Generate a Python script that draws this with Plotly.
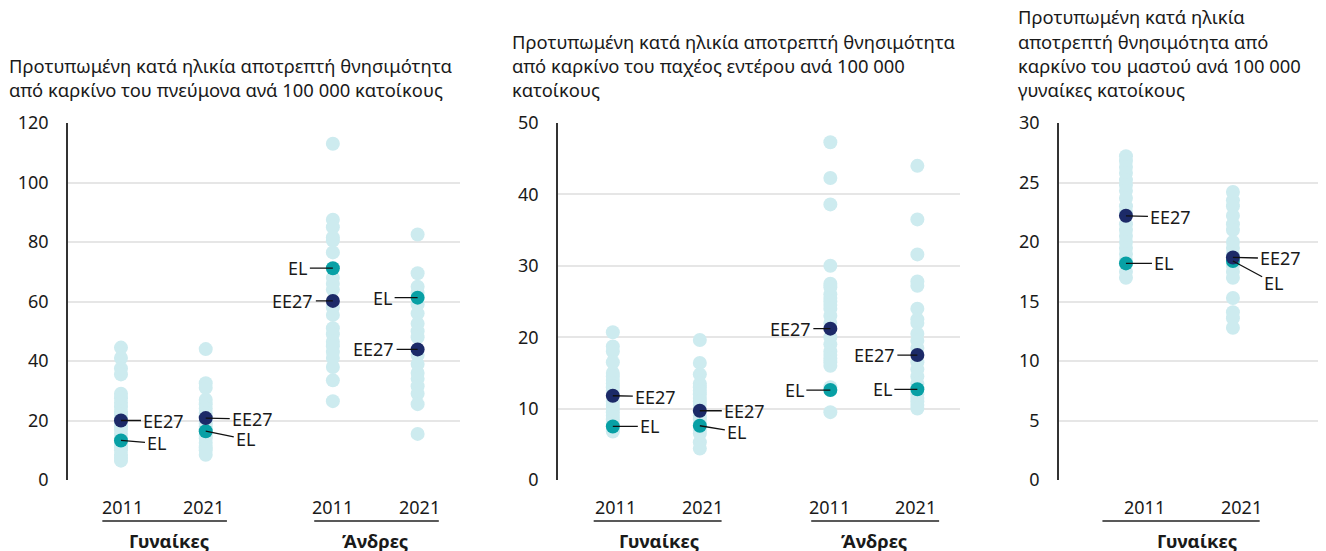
import plotly.graph_objects as go

# ---------------- DATA ----------------
years = ["2011", "2021", "2011", "2021"]
groups = ["Γυναίκες", "Άνδρες"]

# Panel 1: lung cancer
lung_w2011 = [44.5, 41, 37.5, 35.5, 29, 27.5, 26, 24.5, 23, 22, 21, 19, 18, 17, 15.5, 14, 12, 11, 10, 8.5, 7.5, 6.5]
lung_w2021 = [44, 32.5, 31, 27, 25.5, 24, 22.5, 21.5, 20, 19, 18, 17, 15, 14, 12.5, 11, 10, 8.5]
lung_m2011 = [113, 87.5, 85, 81.5, 80.5, 76.5, 68, 66, 64, 58, 55.5, 51, 49, 46.5, 45, 43, 41, 38, 33.5, 26.5]
lung_m2021 = [82.5, 69.5, 65, 63, 59, 56, 52.5, 50, 48, 42, 39, 36, 34, 31.5, 29, 25.5, 15.5]
lung_ee27 = [20.0, 20.8, 60.2, 43.9]
lung_el = [13.3, 16.4, 71.2, 61.3]

# Panel 2: colorectal cancer
colon_w2011 = [20.7, 18.7, 18, 16.5, 15, 14.5, 14, 13.5, 13, 12.5, 11, 10.5, 10, 9.5, 9, 8.5, 8, 7, 6.8]
colon_w2021 = [19.6, 16.4, 14.8, 13.5, 13, 12.5, 12, 11.5, 11, 10.5, 9, 8.5, 8, 7, 6.5, 5.3, 4.4]
colon_m2011 = [47.3, 42.3, 38.6, 30, 27.5, 27, 26, 25.5, 25, 24.5, 24, 23, 22, 20, 19, 18, 17.5, 17, 16.5, 16, 13, 9.5]
colon_m2021 = [44, 36.5, 31.6, 27.8, 27.2, 24, 22.5, 22, 20.5, 19.5, 18.5, 16.5, 15.5, 14.5, 13.5, 12, 11.5, 11, 10.5, 10]
colon_ee27 = [11.8, 9.7, 21.2, 17.5]
colon_el = [7.5, 7.6, 12.6, 12.7]

# Panel 3: breast cancer (women only)
breast_w2011 = [27.2, 26.8, 26.3, 25.8, 25.2, 24.8, 24.3, 23.7, 23, 22.5, 21.5, 21, 20.5, 20, 19.5, 19, 18.5, 17.5, 17]
breast_w2021 = [24.2, 23.5, 23, 22.2, 21.5, 21, 20, 19.5, 19, 18, 17.5, 17, 15.3, 14.1, 13.6, 12.8]
breast_ee27 = [22.2, 18.7]
breast_el = [18.2, 18.4]

titles = [
    ["Προτυπωμένη κατά ηλικία αποτρεπτή θνησιμότητα",
     "από καρκίνο του πνεύμονα ανά 100 000 κατοίκους"],
    ["Προτυπωμένη κατά ηλικία αποτρεπτή θνησιμότητα",
     "από καρκίνο του παχέος εντέρου ανά 100 000",
     "κατοίκους"],
    ["Προτυπωμένη κατά ηλικία",
     "αποτρεπτή θνησιμότητα από",
     "καρκίνο του μαστού ανά 100 000",
     "γυναίκες κατοίκους"],
]
y_max = [120, 50, 30]
y_dtick = [20, 10, 5]

# ---------------- STYLE ----------------
W, H = 1326, 551
OFF = 8  # page body margin compensation
FONT = "Noto Sans"
C_LIGHT = "#cdebef"
C_EE = "#1c2a68"
C_EL = "#08a0a5"
C_TXT = "#1a1a1a"
pos = [1, 2, 3.5, 4.5]
x_domains = [(68, 460), (558, 960), (1059, 1334)]
plot_top, plot_bot = 123, 480

def px(pix):
    return (pix - OFF) / W

def py(pix):
    return 1 - (pix - OFF) / H

panels = [
    dict(cols=[lung_w2011, lung_w2021, lung_m2011, lung_m2021], ee=lung_ee27, el=lung_el,
         xr=[0.375, 5.0],
         ee_off=[(43, 0), (47, 1), (-40, 0), (-44, 0)],
         el_off=[(36, 3), (40, 8), (-35, 0), (-35, 0)],
         yr_shift=[2, -2, 0, 2], grp_shift=[6, 0]),
    dict(cols=[colon_w2011, colon_w2021, colon_m2011, colon_m2021], ee=colon_ee27, el=colon_el,
         xr=[0.37, 4.99],
         ee_off=[(43, 1), (45, 0), (-40, 0), (-43, 0)],
         el_off=[(37, 0), (37, 6), (-36, 0), (-35, 0)],
         yr_shift=[3, 3, -1, -2], grp_shift=[3, 0]),
    dict(cols=[breast_w2011, breast_w2021], ee=breast_ee27, el=breast_el,
         xr=[0.374, 2.945],
         ee_off=[(45, 1), (48, 1)],
         el_off=[(38, 0), (41, 22)],
         yr_shift=[19, 9], grp_shift=[18]),
]

fig = go.Figure()
annotations = []
shapes = []

for i, p in enumerate(panels):
    k = "" if i == 0 else str(i + 1)
    xa, ya = "x" + k, "y" + k
    n = len(p["cols"])
    for j in range(n):
        vals = p["cols"][j]
        fig.add_trace(go.Scatter(x=[pos[j]] * len(vals), y=vals, mode="markers", xaxis=xa, yaxis=ya,
                                 marker=dict(size=14, color=C_LIGHT, line=dict(width=0)),
                                 showlegend=False, hoverinfo="y"))
    fig.add_trace(go.Scatter(x=pos[:n], y=p["el"], mode="markers", xaxis=xa, yaxis=ya,
                             marker=dict(size=14, color=C_EL, line=dict(width=0)), showlegend=False, name="EL"))
    fig.add_trace(go.Scatter(x=pos[:n], y=p["ee"], mode="markers", xaxis=xa, yaxis=ya,
                             marker=dict(size=14, color=C_EE, line=dict(width=0)), showlegend=False, name="EE27"))

    d0, d1 = x_domains[i]
    fig.update_layout(**{
        ("xaxis" + k): dict(domain=[px(d0), min(1.0, px(d1))], range=p["xr"], anchor=ya, showgrid=False,
                            zeroline=False, showline=False, showticklabels=False, fixedrange=True,
                            automargin=False),
        ("yaxis" + k): dict(domain=[py(plot_bot), py(plot_top)], range=[0, y_max[i]], dtick=y_dtick[i],
                            anchor=xa, showgrid=True, gridcolor="#e6e6e6", gridwidth=1.5,
                            zeroline=False, showline=True, linecolor="#333333", linewidth=1.5,
                            ticks="", ticklabelstandoff=14, automargin=False,
                            tickfont=dict(family=FONT, size=18, color=C_TXT)),
    })

    # EE27 / EL labels
    for j in range(n):
        for lab, val, off in (("EE27", p["ee"][j], p["ee_off"][j]), ("EL", p["el"][j], p["el_off"][j])):
            annotations.append(dict(x=pos[j], y=val, xref=xa, yref=ya, text=lab, showarrow=True,
                                    arrowhead=0, arrowwidth=1.3, arrowcolor="#111111", ax=off[0], ay=off[1],
                                    standoff=0, startstandoff=2, borderpad=0,
                                    font=dict(family=FONT, size=18, color=C_TXT)))
    # year labels
    for j in range(n):
        annotations.append(dict(x=pos[j], y=py(507), xref=xa, yref="paper", text=years[j], showarrow=False,
                                xshift=p["yr_shift"][j], yanchor="middle",
                                font=dict(family=FONT, size=18, color=C_TXT)))
    # group labels + underline
    for g in range(n // 2):
        a, b = pos[2 * g], pos[2 * g + 1]
        annotations.append(dict(x=(a + b) / 2, y=py(540), xref=xa, yref="paper", text="<b>" + groups[g] + "</b>",
                                showarrow=False, xshift=p["grp_shift"][g], yanchor="middle",
                                font=dict(family=FONT, size=18.5, color=C_TXT)))
        shapes.append(dict(type="line", xref=xa, yref="paper", x0=a - 0.22, x1=b + 0.25,
                           y0=py(521), y1=py(521), line=dict(color="#222222", width=1.5)))

# titles
title_x = [8, 511, 1017]
for i, lines in enumerate(titles):
    nl = len(lines)
    for li, t in enumerate(lines):
        yc = 89.5 - (nl - 1 - li) * 24.2
        annotations.append(dict(x=px(title_x[i]), y=py(yc), xref="paper", yref="paper", text=t,
                                showarrow=False, xanchor="left", yanchor="middle", borderpad=0,
                                font=dict(family=FONT, size=18.4, color=C_TXT)))

fig.update_layout(template="none", width=W, height=H, margin=dict(l=0, r=0, t=0, b=0, pad=0),
                  paper_bgcolor="white", plot_bgcolor="white", annotations=annotations, shapes=shapes,
                  font=dict(family=FONT, color=C_TXT), showlegend=False)
fig.write_html("out.html")
